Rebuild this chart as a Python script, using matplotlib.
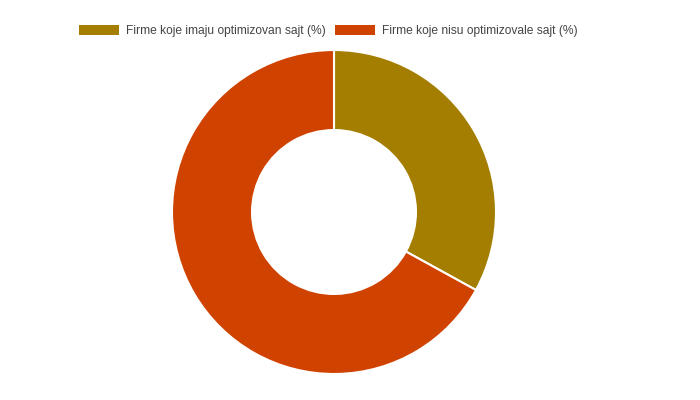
import matplotlib
matplotlib.use("Agg")
import matplotlib.pyplot as plt
from matplotlib.patches import Patch

labels = ['Firme koje imaju optimizovan sajt (%)', 'Firme koje nisu optimizovale sajt (%)']
values = [33, 67]
colors = ['#A37E00', '#D04200']

plt.rcParams['font.family'] = ['Liberation Sans', 'DejaVu Sans']

fig = plt.figure(figsize=(7, 4), dpi=100)
ax = fig.add_axes([172 / 700, 26 / 400, 324 / 700, 324 / 400])
ax.pie(values, colors=colors, startangle=90, counterclock=False, radius=1,
       wedgeprops=dict(width=0.494, edgecolor='white', linewidth=1.5))
ax.set_xlim(-1.0, 1.0)
ax.set_ylim(-1.0, 1.0)
ax.axis('off')

handles = [Patch(facecolor=c, edgecolor='none') for c in colors]
fig.legend(handles, labels, loc='center', bbox_to_anchor=(0.469, 0.922), ncol=2,
           frameon=False, fontsize=8.65, handlelength=3.3, handleheight=0.9,
           handletextpad=0.6, columnspacing=0.75, labelcolor='#444444')

fig.savefig('out.png', dpi=100, facecolor='white')
